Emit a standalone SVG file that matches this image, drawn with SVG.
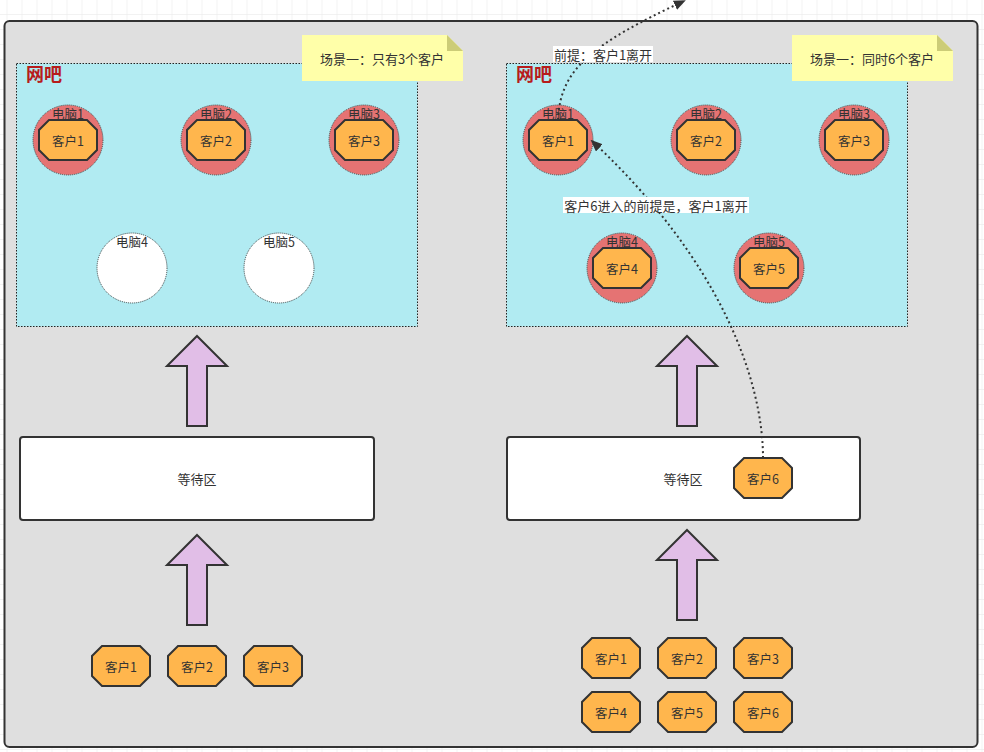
<svg xmlns="http://www.w3.org/2000/svg" xmlns:xlink="http://www.w3.org/1999/xlink" width="984" height="752" viewBox="0 0 984 752">
<style>
text{font-family:"Noto Sans CJK SC","Liberation Sans",sans-serif;fill:#333;}
.t12{font-size:12.5px;text-anchor:middle;dominant-baseline:central;}
.t13{font-size:13px;text-anchor:middle;dominant-baseline:central;}
.title{font-size:18px;font-weight:bold;fill:#b71c1c;}
.panel{fill:#b1ebf2;stroke:#222;stroke-width:1;stroke-dasharray:1.5 1.5;}
.pc{fill:#e57373;stroke:#444;stroke-width:1;stroke-dasharray:1 1;}
.pcfree{fill:#ffffff;stroke:#444;stroke-width:1;stroke-dasharray:1 1;}
.oct{fill:#ffb64d;stroke:#333;stroke-width:2;}
.barrow{fill:#e1bee7;stroke:#333;stroke-width:2;stroke-linejoin:miter;}
.wait{fill:#ffffff;stroke:#333;stroke-width:2;}
.note{fill:#ffffa9;}
.fold{fill:#cccc77;}
.conn{fill:none;stroke:#333;stroke-width:2;stroke-dasharray:2 3;}
.lblbg{fill:#ffffff;}
</style>
<defs>
<pattern id="grid" width="15" height="15" patternUnits="userSpaceOnUse" x="6.5" y="-1">
<path d="M0 0 H15 M0 0 V15" fill="none" stroke="#e6e6e6" stroke-width="1"/>
</pattern>
<polygon id="oct" points="-19,-20 19,-20 29,-10 29,10 19,20 -19,20 -29,10 -29,-10"/>
<marker id="arr" markerWidth="12" markerHeight="10" refX="10" refY="5" orient="auto" markerUnits="userSpaceOnUse">
<path d="M0,0 L12,5 L0,10 Z" fill="#333"/>
</marker>
</defs>
<rect x="0" y="0" width="984" height="752" fill="#ffffff"/>
<rect x="0" y="0" width="984" height="752" fill="url(#grid)"/>
<rect id="container" x="4.5" y="21" width="973" height="726" rx="5" fill="#dfdfdf" stroke="#333" stroke-width="2"/>

<!-- Left scenario -->
<g id="left-panel">
<rect class="panel" x="16.5" y="63.5" width="401" height="263"/>
<text class="title" x="26" y="81">网吧</text>
</g>
<g id="left-note">
<path class="note" d="M302,35 H447 L463,51 V81 H302 Z"/>
<path class="fold" d="M447,35 L463,51 H447 Z"/>
<text class="t13" x="382" y="58">场景一：只有3个客户</text>
</g>
<g id="l-pc1"><circle class="pc" cx="68" cy="140" r="35"/><text class="t12" x="68" y="113">电脑1</text></g>
<g id="l-pc2"><circle class="pc" cx="216" cy="140" r="35"/><text class="t12" x="216" y="113">电脑2</text></g>
<g id="l-pc3"><circle class="pc" cx="364" cy="140" r="35"/><text class="t12" x="364" y="113">电脑3</text></g>
<g id="l-pc4"><circle class="pcfree" cx="132" cy="268" r="35"/><text class="t12" x="132" y="241">电脑4</text></g>
<g id="l-pc5"><circle class="pcfree" cx="279" cy="268" r="35"/><text class="t12" x="279" y="241">电脑5</text></g>
<g id="l-c1-in"><use xlink:href="#oct" class="oct" transform="translate(68,140)"/><text class="t12" x="68" y="140">客户1</text></g>
<g id="l-c2-in"><use xlink:href="#oct" class="oct" transform="translate(216,140)"/><text class="t12" x="216" y="140">客户2</text></g>
<g id="l-c3-in"><use xlink:href="#oct" class="oct" transform="translate(364,140)"/><text class="t12" x="364" y="140">客户3</text></g>
<g id="l-arrow-up1"><path class="barrow" d="M197,336 L227,366 L207,366 L207,426 L187,426 L187,366 L167,366 Z"/></g>
<g id="l-wait"><rect class="wait" x="20" y="437" width="354" height="83" rx="3"/><text class="t13" x="197" y="478">等待区</text></g>
<g id="l-arrow-up2"><path class="barrow" d="M197,535 L227,565 L207,565 L207,625 L187,625 L187,565 L167,565 Z"/></g>
<g id="l-c1"><use xlink:href="#oct" class="oct" transform="translate(121,666)"/><text class="t12" x="121" y="666">客户1</text></g>
<g id="l-c2"><use xlink:href="#oct" class="oct" transform="translate(197,666)"/><text class="t12" x="197" y="666">客户2</text></g>
<g id="l-c3"><use xlink:href="#oct" class="oct" transform="translate(273,666)"/><text class="t12" x="273" y="666">客户3</text></g>

<!-- Right scenario -->
<g id="right-panel">
<rect class="panel" x="506.5" y="63.5" width="401" height="263"/>
<text class="title" x="516" y="81">网吧</text>
</g>
<g id="right-note">
<path class="note" d="M792,35 H937 L953,51 V81 H792 Z"/>
<path class="fold" d="M937,35 L953,51 H937 Z"/>
<text class="t13" x="872" y="58">场景一：同时6个客户</text>
</g>
<g id="r-pc1"><circle class="pc" cx="558" cy="140" r="35"/><text class="t12" x="558" y="113">电脑1</text></g>
<g id="r-pc2"><circle class="pc" cx="706" cy="140" r="35"/><text class="t12" x="706" y="113">电脑2</text></g>
<g id="r-pc3"><circle class="pc" cx="854" cy="140" r="35"/><text class="t12" x="854" y="113">电脑3</text></g>
<g id="r-pc4"><circle class="pc" cx="622" cy="268" r="35"/><text class="t12" x="622" y="241">电脑4</text></g>
<g id="r-pc5"><circle class="pc" cx="769" cy="268" r="35"/><text class="t12" x="769" y="241">电脑5</text></g>
<g id="r-arrow-up1"><path class="barrow" d="M687,336 L717,366 L697,366 L697,426 L677,426 L677,366 L657,366 Z"/></g>
<g id="r-wait"><rect class="wait" x="507" y="437" width="353" height="83" rx="3"/><text class="t13" x="683" y="478">等待区</text></g>
<g id="r-arrow-up2"><path class="barrow" d="M687,530 L717,560 L697,560 L697,620 L677,620 L677,560 L657,560 Z"/></g>

<g id="connectors">
<path class="conn" d="M763,458 C763,380 720,260 592,141" marker-end="url(#arr)"/>
<path class="conn" d="M558,120 C560,70 590,45 684,1" marker-end="url(#arr)"/>
</g>
<g id="connector-labels">
<rect class="lblbg" x="553" y="46" width="100" height="16"/>
<text class="t13" x="603" y="54">前提：客户1离开</text>
<rect class="lblbg" x="563" y="197" width="186" height="16"/>
<text class="t13" x="656" y="205">客户6进入的前提是，客户1离开</text>
</g>

<g id="r-c1-in"><use xlink:href="#oct" class="oct" transform="translate(558,140)"/><text class="t12" x="558" y="140">客户1</text></g>
<g id="r-c2-in"><use xlink:href="#oct" class="oct" transform="translate(706,140)"/><text class="t12" x="706" y="140">客户2</text></g>
<g id="r-c3-in"><use xlink:href="#oct" class="oct" transform="translate(854,140)"/><text class="t12" x="854" y="140">客户3</text></g>
<g id="r-c4-in"><use xlink:href="#oct" class="oct" transform="translate(622,268)"/><text class="t12" x="622" y="268">客户4</text></g>
<g id="r-c5-in"><use xlink:href="#oct" class="oct" transform="translate(769,268)"/><text class="t12" x="769" y="268">客户5</text></g>
<g id="r-c6-wait"><use xlink:href="#oct" class="oct" transform="translate(763,478)"/><text class="t12" x="763" y="478">客户6</text></g>
<g id="r-c1"><use xlink:href="#oct" class="oct" transform="translate(611,658)"/><text class="t12" x="611" y="658">客户1</text></g>
<g id="r-c2"><use xlink:href="#oct" class="oct" transform="translate(687,658)"/><text class="t12" x="687" y="658">客户2</text></g>
<g id="r-c3"><use xlink:href="#oct" class="oct" transform="translate(763,658)"/><text class="t12" x="763" y="658">客户3</text></g>
<g id="r-c4"><use xlink:href="#oct" class="oct" transform="translate(611,712)"/><text class="t12" x="611" y="712">客户4</text></g>
<g id="r-c5"><use xlink:href="#oct" class="oct" transform="translate(687,712)"/><text class="t12" x="687" y="712">客户5</text></g>
<g id="r-c6"><use xlink:href="#oct" class="oct" transform="translate(763,712)"/><text class="t12" x="763" y="712">客户6</text></g>
</svg>
